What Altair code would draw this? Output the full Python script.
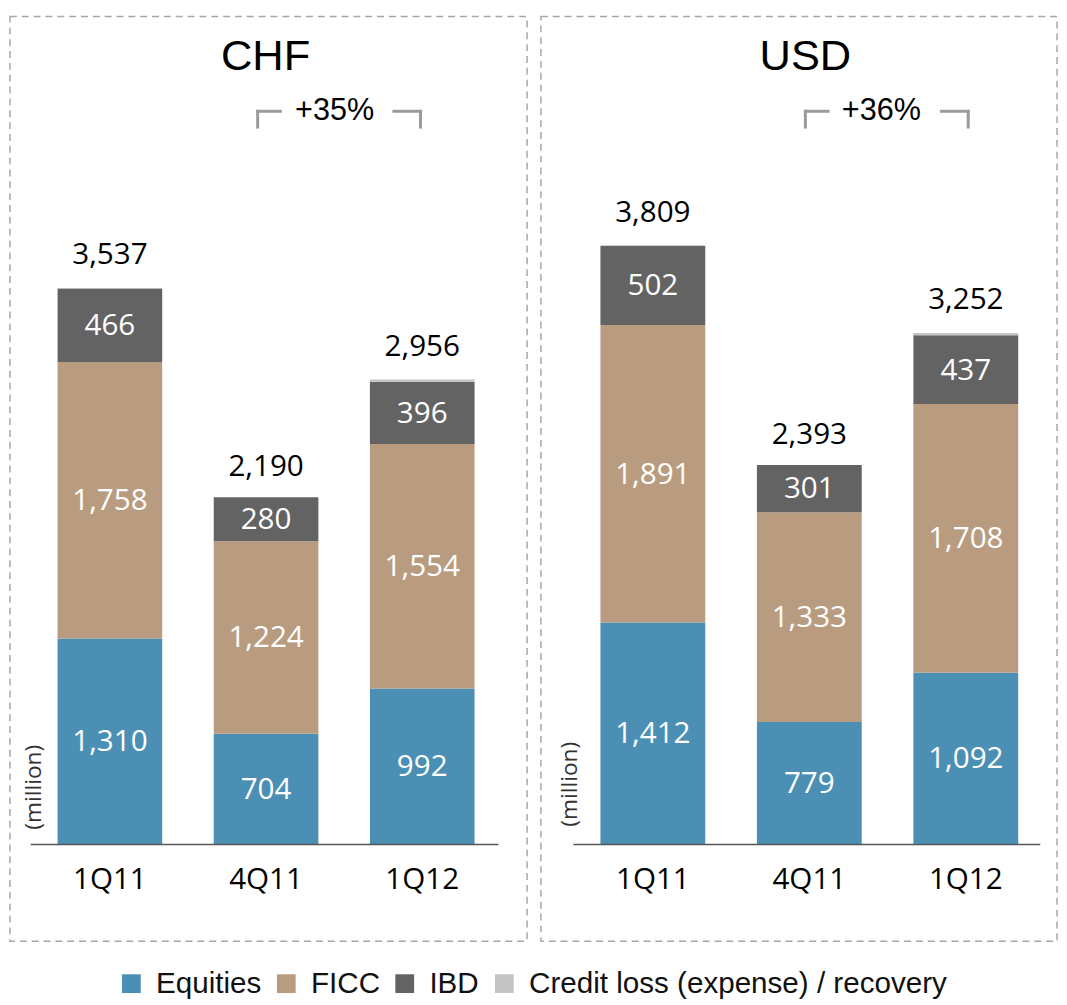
import altair as alt
import pandas as pd

# ---------------- data ----------------
quarters = ["1Q11", "4Q11", "1Q12"]
segments = ["Equities", "FICC", "IBD", "Credit loss (expense) / recovery"]
seg_colors = ["#4b90b4", "#b99c80", "#636363", "#c4c4c4"]

chf_equities = [1310, 704, 992]
chf_ficc = [1758, 1224, 1554]
chf_ibd = [466, 280, 396]
chf_credit = [3, -18, 14]
chf_total = [3537, 2190, 2956]
chf_change = "+35%"

usd_equities = [1412, 779, 1092]
usd_ficc = [1891, 1333, 1708]
usd_ibd = [502, 301, 437]
usd_credit = [4, -20, 15]
usd_total = [3809, 2393, 3252]
usd_change = "+36%"

unit_label = "(million)"

# ---------------- styles ----------------
FONT_NUM = "Open Sans"
FONT_HEAD = "Liberation Sans"
BRACKET = "#9a9a9a"
H = 937
Y_SCALE = alt.Scale(domain=[0, 5000], range=[839, 42])

legend = alt.Legend(
    title=None, orient="none", legendX=108, legendY=965, direction="horizontal",
    symbolType="square", symbolSize=361, symbolStrokeWidth=0,
    labelFont=FONT_HEAD, labelFontSize=30, labelColor="#111111",
    columnPadding=10, labelOffset=10, padding=0, labelLimit=700,
)


def frame(eq, ficc, ibd, credit):
    rows = []
    for i, q in enumerate(quarters):
        for j, vals in enumerate([eq, ficc, ibd, credit]):
            rows.append({"quarter": q, "segment": segments[j], "order": j, "value": vals[i]})
    return pd.DataFrame(rows)


def panel(currency, eq, ficc, ibd, credit, totals, change, geo):
    df = frame(eq, ficc, ibd, credit)
    xs = alt.Scale(domain=quarters, range=geo["xrange"], paddingInner=0.33, paddingOuter=0.33)
    X = alt.X("quarter:N", scale=xs, axis=None)

    base = (
        alt.Chart(df)
        .transform_filter("datum.value > 0")
        .transform_stack(stack="value", groupby=["quarter"], as_=["y0", "y1"],
                         sort=[alt.SortField(field="order", order="ascending")])
        .transform_calculate(mid="(datum.y0 + datum.y1) / 2")
    )
    bars = base.mark_bar().encode(
        x=X,
        y=alt.Y("y0:Q", scale=Y_SCALE, axis=None),
        y2="y1:Q",
        color=alt.Color("segment:N", scale=alt.Scale(domain=segments, range=seg_colors), legend=legend),
    )
    seg_text = base.transform_filter("datum.order < 3").mark_text(
        font=FONT_NUM, fontSize=30, color="white", baseline="middle", dy=1
    ).encode(
        x=X, y=alt.Y("mid:Q", scale=Y_SCALE, axis=None), text=alt.Text("value:Q", format=",")
    )

    tot_df = pd.DataFrame({"quarter": quarters, "total": totals})
    tot_text = alt.Chart(tot_df).mark_text(
        font=FONT_NUM, fontSize=30, color="black", baseline="middle", dy=-33
    ).encode(
        x=X, y=alt.Y("total:Q", scale=Y_SCALE, axis=None), text=alt.Text("total:Q", format=",")
    )

    xlab = alt.Chart(pd.DataFrame({"quarter": quarters})).mark_text(
        font=FONT_NUM, fontSize=30, color="black", baseline="middle"
    ).encode(x=X, y=alt.value(875), text="quarter:N")

    axis_line = alt.Chart(pd.DataFrame({"zero": [0]})).mark_rule(color="#555555", strokeWidth=1.5).encode(
        x=alt.value(geo["line"][0]), x2=alt.value(geo["line"][1]),
        y=alt.Y("zero:Q", scale=Y_SCALE, axis=None),
    )

    title = alt.Chart(pd.DataFrame({"t": [currency]})).mark_text(
        font=FONT_HEAD, fontSize=44, color="black", baseline="middle"
    ).encode(x=alt.value(geo["title_x"]), y=alt.value(41), text="t:N")

    chg = alt.Chart(pd.DataFrame({"t": [change]})).mark_text(
        font=FONT_HEAD, fontSize=31, color="black", baseline="middle"
    ).encode(x=alt.value(geo["chg_x"]), y=alt.value(96), text="t:N")

    unit = alt.Chart(pd.DataFrame({"t": [unit_label]})).mark_text(
        font=FONT_NUM, fontSize=23, color="#333333", baseline="middle", angle=270
    ).encode(x=alt.value(geo["unit"][0]), y=alt.value(geo["unit"][1]), text="t:N")

    bl, br = geo["bracket"]
    one = alt.Chart(pd.DataFrame({"k": [0]}))
    rule_kw = dict(color=BRACKET, strokeWidth=3, strokeCap="square")
    brackets = [
        one.mark_rule(**rule_kw).encode(x=alt.value(bl), x2=alt.value(bl + 23), y=alt.value(96)),
        one.mark_rule(**rule_kw).encode(x=alt.value(bl), y=alt.value(96), y2=alt.value(112)),
        one.mark_rule(**rule_kw).encode(x=alt.value(br - 27), x2=alt.value(br), y=alt.value(96)),
        one.mark_rule(**rule_kw).encode(x=alt.value(br), y=alt.value(96), y2=alt.value(112)),
    ]

    return alt.layer(bars, seg_text, tot_text, xlab, axis_line, title, chg, unit, *brackets).properties(
        width=geo["width"], height=H
    )


chf_geo = dict(width=524, xrange=[-4, 523], line=(21, 495), title_x=259, chg_x=329,
               unit=(24, 781), bracket=(251, 416))
usd_geo = dict(width=523, xrange=[8, 536], line=(33, 506), title_x=268, chg_x=345,
               unit=(30, 778), bracket=(268, 433))

left = panel("CHF", chf_equities, chf_ficc, chf_ibd, chf_credit, chf_total, chf_change, chf_geo)
right = panel("USD", usd_equities, usd_ficc, usd_ibd, usd_credit, usd_total, usd_change, usd_geo)

chart = (
    alt.hconcat(left, right, spacing=12)
    .resolve_scale(color="shared")
    .properties(padding={"left": 1, "top": 1, "right": 1, "bottom": 1}, background="white")
    .configure_view(stroke="#a6a6a6", strokeDash=[7, 5], strokeWidth=1.5)
)

chart.save("out.html", embed_options={"renderer": "svg", "actions": False})
